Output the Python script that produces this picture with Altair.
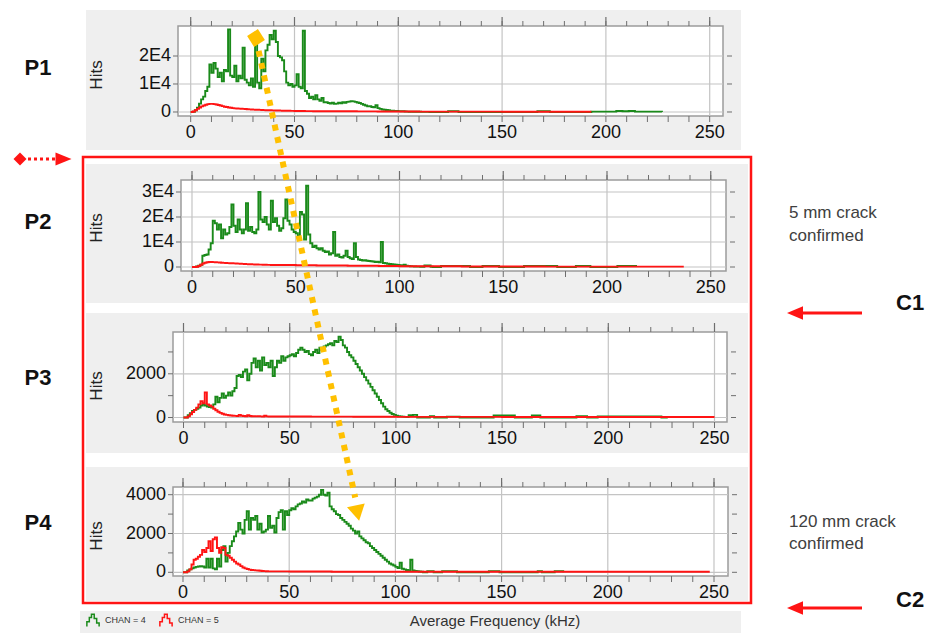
import altair as alt
import pandas as pd

W, H = 932, 633
FONT = "Liberation Sans, Arial, sans-serif"
GREEN = "#1a8a1a"
RED = "#ff1414"
AMBER = "#ffc000"
PANEL_GRAY = "#efefef"
GRID = "#c4c4c4"
BORDER = "#9c9c9c"
TICK = "#6e6e6e"

# ---------------------------------------------------------------------------
# Hit histograms (1 kHz bins starting at 0 kHz), CHAN 4 (green) and CHAN 5 (red)
# Each series: per-bin hits for the busy low band, then sparse (kHz, hits)
# break points for the long near-zero tail.
# ---------------------------------------------------------------------------
p1_chan4 = [
    0, 100, 600, 1500, 3000, 4500, 5500, 7500, 9000, 17000,
    14000, 17500, 15500, 12500, 14000, 11000, 15000, 14500, 29500, 13000,
    12500, 16500, 11000, 13000, 12000, 23000, 11500, 10500, 9500, 12000,
    9000, 26500, 10500, 8500, 19000, 14500, 22000, 24000, 27500, 26000,
    29000, 25000, 20000, 19500, 18500, 14500, 10500, 9500, 10000, 9000,
    9500, 13500, 9000, 8500, 29000, 7500, 6500, 5000, 5500, 4500,
    6000, 4500, 4000, 5000, 3500, 3500, 3200, 3000, 3300, 2900,
    3000, 3300, 3100, 3500, 3300, 3600, 3700, 3900, 3800, 3600,
    3400, 3200, 2900, 2600, 2300, 2000, 2100, 1800, 1700, 2400,
    1400, 1100, 900, 800, 700, 600, 500, 450, 400, 350,
    300, 250, 300, 200, 150, 100, 120, 80, 100, 60,
    80, 50, 60, 40, 30, 20,
]
p1_chan4_tail_khz = [116, 124, 129, 167, 173, 193, 205, 208, 211, 214, 227]
p1_chan4_tail_hits = [0, 250, 0, 250, 0, 150, 350, 250, 350, 150, 0]

p1_chan5 = [
    0, 200, 600, 1100, 1600, 2000, 2300, 2600, 2800, 2900,
    2900, 2800, 2700, 2500, 2300, 2100, 1900, 1800, 1600, 1500,
    1400, 1300, 1250, 1200, 1150, 1100, 1050, 1000, 950, 900,
    850, 800, 780, 750, 700, 680, 650, 620, 600, 580,
    550, 530, 510, 490, 470, 450, 440, 420, 400, 390,
    380, 370, 360, 350, 340, 330, 320, 310, 300, 290,
]
p1_chan5_tail_khz = [60, 70, 80, 90, 100, 110, 130, 150, 170, 193]
p1_chan5_tail_hits = [280, 250, 220, 200, 170, 150, 130, 110, 100, 100]

p2_chan4 = [
    0, 0, 200, 500, 900, 4500, 4800, 5000, 7000, 9500,
    18500, 17500, 15000, 17000, 11500, 15000, 13000, 13500, 16000, 25000,
    16500, 14000, 19000, 15000, 13500, 15000, 25500, 14500, 16000, 14000,
    13500, 15000, 30000, 19000, 18000, 20000, 17000, 15000, 26500, 18000,
    19500, 16500, 14500, 15500, 19500, 27000, 18500, 17000, 15000, 14000,
    13500, 12500, 22000, 21000, 11000, 32500, 13000, 9500, 8000, 8500,
    7500, 7000, 7500, 6500, 6000, 6200, 5000, 5500, 14000, 4500,
    5000, 4000, 3800, 4500, 6500, 4000, 3500, 3200, 9500, 4000,
    3000, 2800, 2600, 2700, 2500, 2400, 2300, 2200, 2000, 2100,
    1900, 10000, 1600, 1500, 1300, 1200, 1100, 1000, 900, 800,
    700, 600, 900, 500, 400, 300, 250, 200,
]
p2_chan4_tail_khz = [108, 110, 112, 115, 116, 120, 134, 140, 148, 160, 176, 185, 192, 205, 214]
p2_chan4_tail_hits = [150, 100, 600, 80, 0, 400, 0, 400, 0, 400, 0, 400, 0, 400, 0]

p2_chan5 = [
    0, 0, 100, 400, 900, 1400, 1700, 1900, 2000, 2000,
    1950, 1900, 1850, 1800, 1700, 1650, 1600, 1550, 1500, 1500,
    1450, 1400, 1350, 1300, 1250, 1200, 1150, 1100, 1100, 1050,
    1000, 1000, 950, 950, 900, 900, 850, 850, 800, 800,
]
p2_chan5_tail_khz = [40, 50, 60, 75, 90, 100, 130, 170, 237]
p2_chan5_tail_hits = [780, 700, 600, 500, 400, 300, 200, 150, 150]

p3_chan4 = [
    0, 0, 100, 200, 300, 350, 400, 450, 550, 600,
    550, 500, 480, 450, 600, 950, 700, 900, 1100, 900,
    1000, 1150, 1000, 1200, 1350, 1900, 1950, 1850, 2100, 2200,
    1700, 2000, 2500, 2700, 2300, 2600, 2150, 2750, 2400, 2500,
    2300, 2600, 1900, 2300, 2600, 2500, 2800, 2600, 2750, 2800,
    2850, 2900, 2800, 2950, 3100, 3200, 3100, 3000, 3050, 2900,
    2850, 3000, 3100, 2950, 3200, 3100, 3250, 3300, 3350, 3400,
    3300, 3500, 3450, 3700, 3550, 3300, 3200, 3000, 2850, 2750,
    2600, 2450, 2300, 2150, 2000, 1850, 1700, 1550, 1400, 1250,
    1100, 950, 800, 650, 500, 380, 300, 220, 160, 120,
    80, 60, 50, 40, 30, 20,
]
p3_chan4_tail_khz = [106, 108, 110, 116, 118, 124, 130, 146, 156, 164, 168, 185, 190, 195, 225, 228]
p3_chan4_tail_hits = [100, 120, 0, 60, 0, 40, 0, 90, 0, 90, 0, 60, 0, 50, 0, 0]

p3_chan5 = [
    0, 0, 50, 150, 250, 350, 450, 600, 750, 650,
    1150, 600, 550, 500, 400, 330, 260, 210, 170, 140,
    120, 100, 90, 80, 75, 70, 120, 80, 70, 60,
    100, 70, 60, 55, 50, 60, 50, 45, 80, 50,
]
p3_chan5_tail_khz = [40, 60, 80, 100, 150, 200, 250]
p3_chan5_tail_hits = [45, 40, 35, 30, 25, 20, 20]

p4_chan4 = [
    0, 0, 100, 150, 200, 250, 280, 300, 320, 300,
    250, 700, 250, 700, 200, 150, 700, 300, 1150, 1350,
    550, 1000, 1350, 1600, 1850, 2100, 2550, 2200, 2000, 2700,
    3150, 2200, 2800, 2700, 2900, 2200, 2500, 2050, 2100, 2200,
    2900, 2300, 2400, 2050, 2800, 3100, 3200, 2200, 3150, 2950,
    3200, 3300, 3250, 3400, 3500, 3550, 3650, 3600, 3750, 3700,
    3700, 3800, 3850, 3900, 4000, 4250, 4000, 3950, 4100, 3400,
    3250, 3150, 3000, 2950, 2800, 2700, 2600, 2500, 2400, 2250,
    2150, 2000, 2100, 1850, 1750, 1650, 1550, 1500, 1350, 1250,
    1150, 1050, 950, 850, 750, 650, 550, 450, 400, 350,
    280, 220, 500, 180, 150, 120, 100, 650, 90, 70,
    60, 40, 30,
]
p4_chan4_tail_khz = [113, 115, 118, 122, 129, 144, 149, 167, 169, 175, 179]
p4_chan4_tail_hits = [0, 60, 0, 60, 0, 60, 0, 60, 0, 60, 0]

p4_chan5 = [
    0, 0, 50, 150, 400, 650, 700, 800, 900, 1150,
    1050, 1250, 1600, 1100, 1700, 1800, 1250, 1000, 1300, 1250,
    900, 850, 750, 650, 550, 450, 400, 320, 250, 200,
    170, 140, 120, 110, 100, 90, 80, 70, 60, 55,
]
p4_chan5_tail_khz = [40, 50, 70, 100, 150, 200, 248]
p4_chan5_tail_hits = [50, 40, 30, 25, 25, 25, 25]

# axis ticks / labels
khz_ticks = [0, 10, 20, 30, 40, 50, 60, 70, 80, 90, 100, 110, 120, 130, 140,
             150, 160, 170, 180, 190, 200, 210, 220, 230, 240, 250]
khz_labels = [0, 50, 100, 150, 200, 250]
p1_hits_ticks = [0, 10000, 20000]
p1_hits_labels = ["0", "1E4", "2E4"]
p2_hits_ticks = [0, 10000, 20000, 30000]
p2_hits_labels = ["0", "1E4", "2E4", "3E4"]
p3_hits_ticks = [0, 1000, 2000, 3000]
p3_hits_labels = ["0", "", "2000", ""]
p4_hits_ticks = [0, 1000, 2000, 3000, 4000]
p4_hits_labels = ["0", "", "2000", "", "4000"]
chan_names = ["CHAN = 4", "CHAN = 5"]


def histogram(main, tail_khz, tail_hits, chan):
    khz = list(range(len(main))) + list(tail_khz)
    hits = list(main) + list(tail_hits)
    return pd.DataFrame({"khz": khz, "hits": hits, "chan": chan})


ONE = pd.DataFrame({"n": [0]})

# plot-area geometry of each histogram panel (pixels on the page)
PANELS = [
    dict(left=178, right=723, top=26, bottom=116, x0=190.7, xk=2.076,
         y0=112.0, yk=28 / 10000, hits_y=75, gray=(86, 741, 10, 150)),
    dict(left=181, right=726, top=180, bottom=271, x0=192.0, xk=2.075,
         y0=267.0, yk=25 / 10000, hits_y=228, gray=(86, 748, 164, 303)),
    dict(left=173, right=727, top=332, bottom=422, x0=183.5, xk=2.124,
         y0=417.5, yk=21.85 / 1000, hits_y=386, gray=(86, 748, 313, 453)),
    dict(left=173, right=728, top=487, bottom=576, x0=183.0, xk=2.124,
         y0=572.3, yk=19.4 / 1000, hits_y=536, gray=(86, 748, 467, 601)),
]

color_scale = alt.Scale(domain=chan_names, range=[GREEN, RED])
ICON = "M-1,1 L-1,0.2 L-0.6,0.2 L-0.6,-0.5 L-0.25,-0.5 L-0.25,-1 L0.2,-1 L0.2,-0.3 L0.6,-0.3 L0.6,0.4 L1,0.4 L1,1"
legend = alt.Legend(orient="none", legendX=86, legendY=613, direction="horizontal",
                    title=None, symbolType=ICON, symbolSize=150, symbolStrokeWidth=1.5,
                    symbolFillColor="transparent", labelFont=FONT, labelFontSize=9,
                    labelColor="#333", labelOffset=5, columnPadding=10, padding=0)


def rect(x1, x2, y1, y2, **style):
    return alt.Chart(ONE).mark_rect(**style).encode(
        x=alt.value(x1), x2=alt.value(x2), y=alt.value(y1), y2=alt.value(y2))


def text(x, y, s, **style):
    base = dict(font=FONT, baseline="middle")
    base.update(style)
    return alt.Chart(ONE).mark_text(**base).encode(
        x=alt.value(x), y=alt.value(y), text=alt.value(s))


def panel(p, green, red, yticks, ylabels, ygrid, xtitle=None):
    xs = alt.Scale(domain=[round((p["left"] - p["x0"]) / p["xk"], 3),
                           round((p["right"] - p["x0"]) / p["xk"], 3)],
                   range=[p["left"], p["right"]], nice=False, zero=False)
    ys = alt.Scale(domain=[round((p["y0"] - p["bottom"]) / p["yk"], 1),
                           round((p["y0"] - p["top"]) / p["yk"], 1)],
                   range=[p["bottom"], p["top"]], nice=False, zero=False)
    L, R, T, B = p["left"], p["right"], p["top"], p["bottom"]

    def X(field="khz"):
        return alt.X(f"{field}:Q", scale=xs, axis=None)

    def Y(field="hits"):
        return alt.Y(f"{field}:Q", scale=ys, axis=None)

    khz_tick_df = pd.DataFrame({"khz": khz_ticks})
    khz_label_df = pd.DataFrame({"khz": khz_labels})
    hits_df = pd.DataFrame({"hits": yticks, "label": ylabels})

    layers = [
        rect(L, R, T, B, fill="white", stroke=BORDER, strokeWidth=1.5),
        # grid
        alt.Chart(khz_label_df).mark_rule(color=GRID, strokeWidth=1.2).encode(
            x=X(), y=alt.value(T), y2=alt.value(B)),
        alt.Chart(pd.DataFrame({"hits": ygrid})).mark_rule(color=GRID, strokeWidth=1.2).encode(
            y=Y(), x=alt.value(L), x2=alt.value(R)),
        # frequency ticks: top edge (long at labelled values) and bottom edge
        alt.Chart(khz_tick_df).mark_rule(color=TICK, strokeWidth=1).encode(
            x=X(), y=alt.value(T - 5), y2=alt.value(T)),
        alt.Chart(khz_label_df).mark_rule(color=TICK, strokeWidth=1.2).encode(
            x=X(), y=alt.value(T - 9), y2=alt.value(T)),
        alt.Chart(khz_tick_df).mark_rule(color=TICK, strokeWidth=1).encode(
            x=X(), y=alt.value(B), y2=alt.value(B + 6)),
        # hits ticks: left and right edges
        alt.Chart(hits_df).mark_rule(color=TICK, strokeWidth=1).encode(
            y=Y(), x=alt.value(L - 5), x2=alt.value(L)),
        alt.Chart(hits_df).mark_rule(color=TICK, strokeWidth=1).encode(
            y=Y(), x=alt.value(R + 4), x2=alt.value(R + 9)),
        # tick labels
        alt.Chart(khz_label_df).mark_text(font=FONT, fontSize=18, color="#111",
                                          baseline="middle", align="center").encode(
            x=X(), y=alt.value(B + 17), text=alt.Text("khz:Q", format="d")),
        alt.Chart(hits_df).mark_text(font=FONT, fontSize=18, color="#111",
                                     baseline="middle", align="right").encode(
            y=Y(), x=alt.value(L - 7), text=alt.Text("label:N")),
        text(97, p["hits_y"], "Hits", fontSize=17, color="#222", align="center", angle=270),
        # histogram outlines
        alt.Chart(green).mark_line(interpolate="step-after", strokeWidth=1.9).encode(
            x=X(), y=Y(),
            color=alt.Color("chan:N", scale=color_scale, legend=legend)),
        alt.Chart(red).mark_line(interpolate="step-after", strokeWidth=1.9).encode(
            x=X(), y=Y(),
            color=alt.Color("chan:N", scale=color_scale, legend=legend)),
    ]
    if xtitle:
        layers.append(text(495, 621, xtitle, fontSize=15, color="#333", align="center"))
    return alt.layer(*layers)


panel_charts = [
    panel(PANELS[0], histogram(p1_chan4, p1_chan4_tail_khz, p1_chan4_tail_hits, chan_names[0]),
          histogram(p1_chan5, p1_chan5_tail_khz, p1_chan5_tail_hits, chan_names[1]),
          p1_hits_ticks, p1_hits_labels, p1_hits_ticks),
    panel(PANELS[1], histogram(p2_chan4, p2_chan4_tail_khz, p2_chan4_tail_hits, chan_names[0]),
          histogram(p2_chan5, p2_chan5_tail_khz, p2_chan5_tail_hits, chan_names[1]),
          p2_hits_ticks, p2_hits_labels, p2_hits_ticks),
    panel(PANELS[2], histogram(p3_chan4, p3_chan4_tail_khz, p3_chan4_tail_hits, chan_names[0]),
          histogram(p3_chan5, p3_chan5_tail_khz, p3_chan5_tail_hits, chan_names[1]),
          p3_hits_ticks, p3_hits_labels, [0, 2000]),
    panel(PANELS[3], histogram(p4_chan4, p4_chan4_tail_khz, p4_chan4_tail_hits, chan_names[0]),
          histogram(p4_chan5, p4_chan5_tail_khz, p4_chan5_tail_hits, chan_names[1]),
          p4_hits_ticks, p4_hits_labels, [0, 2000, 4000], xtitle="Average Frequency (kHz)"),
]

# backgrounds: grey panel cards, legend strip and the red frame around P2-P4
backgrounds = [rect(*p["gray"][:2], *p["gray"][2:], fill=PANEL_GRAY) for p in PANELS]
backgrounds.append(rect(80, 741, 611, 633, fill=PANEL_GRAY))
backgrounds.append(rect(83, 751, 157, 603, fill="transparent", stroke=RED, strokeWidth=2.5))

# annotations
ARROW_LEFT = "M1,-0.85 L-1,0 L1,0.85 Z"
ARROW_RIGHT = "M-1,-0.8 L1,0 L-1,0.8 Z"
annotations = []
for lab, y in [("P1", 68), ("P2", 222), ("P3", 378), ("P4", 523)]:
    annotations.append(text(38, y, lab, fontSize=22, fontWeight="bold", color="#111", align="center"))
for lab, y in [("C1", 303), ("C2", 600)]:
    annotations.append(text(896, y, lab, fontSize=22, fontWeight="bold", color="#111", align="left"))
for s, y in [("5 mm crack", 213), ("confirmed", 236), ("120 mm crack", 522), ("confirmed", 544)]:
    annotations.append(text(789, y, s, fontSize=17, color="#404040", align="left"))
for y in [313, 608]:
    annotations.append(alt.Chart(ONE).mark_rule(color=RED, strokeWidth=3).encode(
        x=alt.value(801), x2=alt.value(862), y=alt.value(y)))
    annotations.append(alt.Chart(ONE).mark_point(
        shape=ARROW_LEFT, filled=True, size=256, color=RED, opacity=1).encode(
        x=alt.value(795), y=alt.value(y)))

# dotted red marker on the left (P1 / P2 boundary)
annotations.append(alt.Chart(ONE).mark_point(
    shape="diamond", filled=True, size=170, color=RED, opacity=1).encode(
    x=alt.value(20), y=alt.value(159)))
annotations.append(alt.Chart(ONE).mark_rule(
    color=RED, strokeWidth=3, strokeDash=[3, 3]).encode(
    x=alt.value(28), x2=alt.value(57), y=alt.value(159)))
annotations.append(alt.Chart(ONE).mark_point(
    shape=ARROW_RIGHT, filled=True, size=256, color=RED, opacity=1).encode(
    x=alt.value(63.5), y=alt.value(159)))

# amber dotted trend arrow across the panels
annotations.append(alt.Chart(ONE).mark_rule(
    color=AMBER, strokeWidth=6, strokeDash=[6, 6.6], strokeCap="butt").encode(
    x=alt.value(258.6), y=alt.value(50.8), x2=alt.value(355.2), y2=alt.value(497.5)))
annotations.append(alt.Chart(ONE).mark_point(
    shape="diamond", filled=True, size=330, color=AMBER, opacity=1, angle=12).encode(
    x=alt.value(256), y=alt.value(38)))
annotations.append(alt.Chart(ONE).mark_point(
    shape="triangle-down", filled=True, size=330, color=AMBER, opacity=1, angle=348).encode(
    x=alt.value(357.5), y=alt.value(513)))

chart = alt.layer(*backgrounds, *panel_charts, *annotations).resolve_scale(
    x="independent", y="independent", color="shared"
).properties(
    width=W, height=H, padding=0, autosize=alt.AutoSizeParams(type="none"),
    background="white",
).configure_view(stroke="transparent")

chart.save("out.html", embed_options={"renderer": "svg", "actions": False})
